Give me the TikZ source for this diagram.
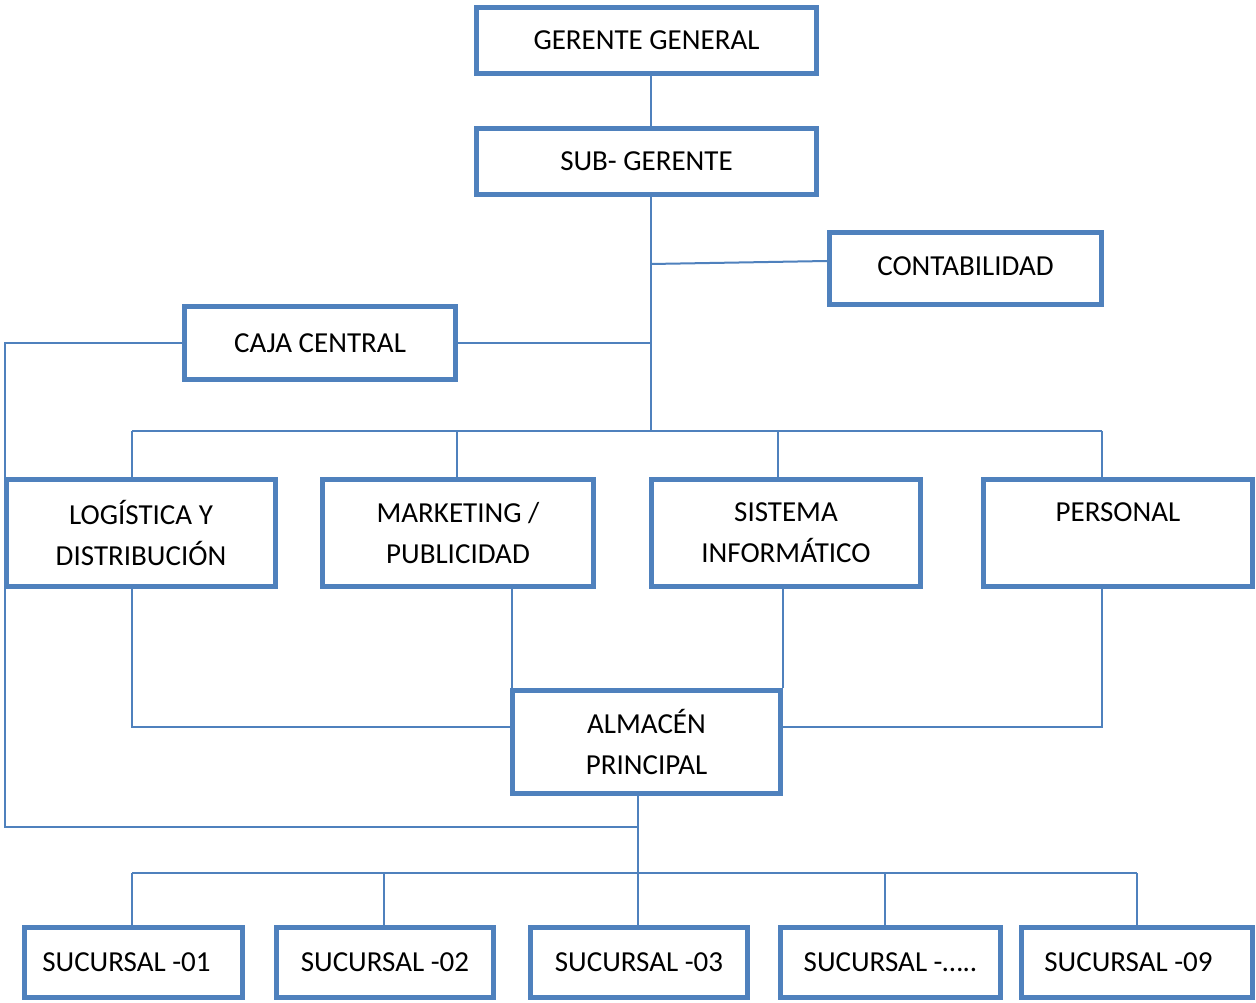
\documentclass[tikz,border=0pt]{standalone}
\usepackage{fontspec}
\setmainfont{Carlito}
\definecolor{bl}{HTML}{4F81BD}
\begin{document}
\begin{tikzpicture}[x=1pt,y=-1pt,
 box/.style={draw=bl, line width=5pt, fill=white, rectangle, inner sep=0pt, align=center, text=black, font=\fontsize{29}{41}\selectfont},
 link/.style={draw=bl, line width=2pt}]
\useasboundingbox[fill=white] (0,0) rectangle (1256,1003);
% boxes
\node[box,minimum width=340pt,minimum height=66pt] (gg) at (646.5,40.5) {GERENTE GENERAL};
\node[box,minimum width=340pt,minimum height=66pt] (sg) at (646.5,161.5) {SUB- GERENTE};
\node[box,minimum width=272pt,minimum height=72pt] (contab) at (965.5,268.5) {\raisebox{4pt}{CONTABILIDAD}};
\node[box,minimum width=271pt,minimum height=73pt] (caja) at (320,343) {CAJA CENTRAL};
\node[box,minimum width=269pt,minimum height=107pt] (log) at (141,533) {LOGÍSTICA Y\\DISTRIBUCIÓN};
\node[box,minimum width=271pt,minimum height=107pt] (mkt) at (458,533) {MARKETING /\\PUBLICIDAD};
\node[box,minimum width=269pt,minimum height=107pt] (sis) at (786,533) {SISTEMA\\INFORMÁTICO};
\node[box,minimum width=269pt,minimum height=107pt] (per) at (1118,533) {PERSONAL\\\phantom{X}};
\node[box,minimum width=268pt,minimum height=103pt] (alm) at (646.5,742) {ALMACÉN\\PRINCIPAL};
\node[box,minimum width=218pt,minimum height=70pt] (s1) at (133.5,962.5) {\hspace*{-14pt}SUCURSAL -01};
\node[box,minimum width=217pt,minimum height=70pt] (s2) at (385,962.5) {SUCURSAL -02};
\node[box,minimum width=217pt,minimum height=70pt] (s3) at (639,962.5) {SUCURSAL -03};
\node[box,minimum width=220pt,minimum height=70pt] (s4) at (890.5,962.5) {SUCURSAL -…..};
\node[box,minimum width=231pt,minimum height=70pt] (s9) at (1137,962.5) {\hspace*{-17pt}SUCURSAL -09};
% trunk
\coordinate (tk) at (651,0);
\draw[link] (gg.south -| tk) -- (sg.north -| tk);
\coordinate (bus) at (651,431);
\draw[link] (sg.south -| tk) -- (bus);
\coordinate (cj) at (651,264);
\draw[link] (cj) -- ([yshift=7.5pt]contab.west);
\draw[link] (caja.east) -- (caja.east -| tk);
\coordinate (lx) at (5,827);
\coordinate (dn) at (638,827);
\draw[link] (caja.west) -- (caja.west -| lx) -- (lx) -- (dn);
% upper bus
\coordinate (b1) at (132,431);
\coordinate (b2) at (1102,431);
\coordinate (b3) at (457,431);
\coordinate (b4) at (778,431);
\draw[link] (b1) -- (b2);
\draw[link] (b1) -- (log.north -| b1);
\draw[link] (b3) -- (mkt.north -| b3);
\draw[link] (b4) -- (sis.north -| b4);
\draw[link] (b2) -- (per.north -| b2);
% to almacen
\coordinate (al) at (132,727);
\coordinate (ar) at (1102,727);
\draw[link] (log.south -| al) -- (al) -- (alm.west |- al);
\draw[link] (per.south -| ar) -- (ar) -- (alm.east |- ar);
\coordinate (m1) at (512,0);
\coordinate (m2) at (783,0);
\draw[link] (mkt.south -| m1) -- (alm.north -| m1);
\draw[link] (sis.south -| m2) -- (alm.north -| m2);
% lower bus
\coordinate (d) at (638,873);
\draw[link] (alm.south -| d) -- (d);
\coordinate (e1) at (132,873);
\coordinate (e2) at (384,873);
\coordinate (e4) at (885,873);
\coordinate (e5) at (1137,873);
\draw[link] (e1) -- (e5);
\draw[link] (e1) -- (s1.north -| e1);
\draw[link] (e2) -- (s2.north -| e2);
\draw[link] (d) -- (s3.north -| d);
\draw[link] (e4) -- (s4.north -| e4);
\draw[link] (e5) -- (s9.north -| e5);
\end{tikzpicture}
\end{document}
